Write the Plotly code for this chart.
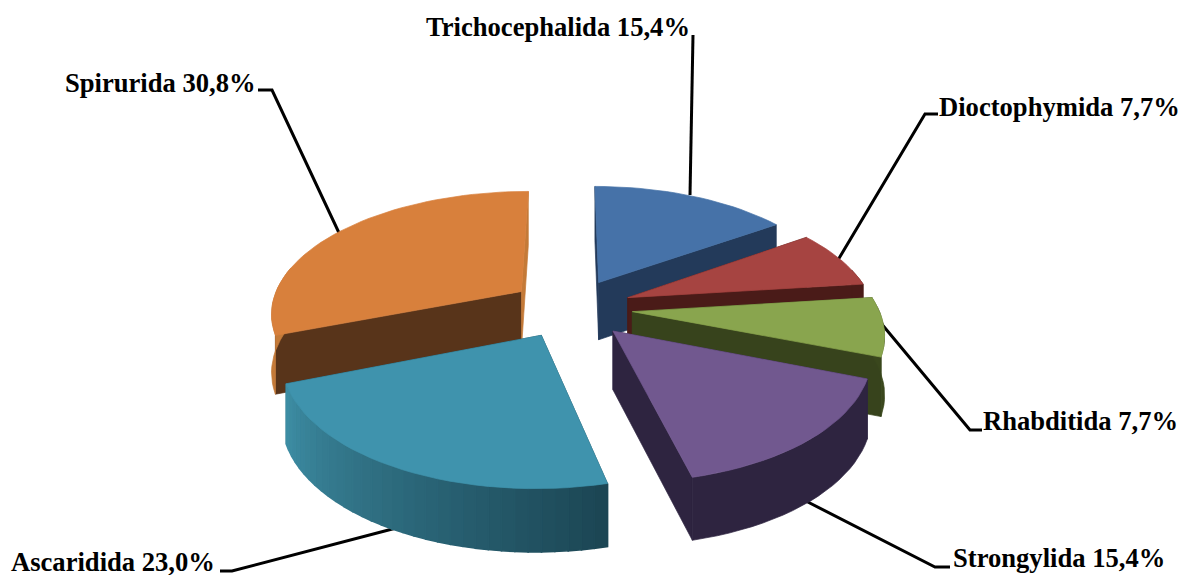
import math
import plotly.graph_objects as go

orders = ["Trichocephalida", "Dioctophymida", "Rhabditida", "Strongylida", "Ascaridida", "Spirurida"]
shares = [15.4, 7.7, 7.7, 15.4, 23.0, 30.8]
share_text = ["15,4%", "7,7%", "7,7%", "15,4%", "23,0%", "30,8%"]

top_colors = ["#4672A8", "#A64441", "#89A54E", "#71588F", "#3F93AD", "#D8803C"]
wall_start = ["#233A5A", "#4A1B18", "#37431C", "#2E2440", "#1B4553", "#58341A"]
wall_end = ["#233A5A", "#4A1B18", "#37431C", "#2E2440", "#1B4553", "#C47A38"]
arc_from = ["#233A5A", "#4A1B18", "#3A471D", "#2E2440", "#1B4553", "#C47A38"]
arc_to = ["#233A5A", "#4A1B18", "#3A471D", "#2E2440", "#3E8EA5", "#C47A38"]
radius_scale = [1, 1, 1, 1, 1, 1.02]
draw_order = [0, 1, 5, 2, 4, 3]

label_xy = [(424, 27), (937, 107), (981, 421), (951, 558), (9, 562), (63, 83)]
leaders = [
    [(693, 35), (690, 195)],
    [(938, 114), (925, 114), (838, 260)],
    [(880, 322), (970, 430), (982, 430)],
    [(800, 498), (935, 567), (950, 567)],
    [(400, 527), (232, 571), (220, 571)],
    [(258, 90), (272, 90), (340, 235)],
]

CX, CY = 571, 308
R, AR, K, EXPLODE, H = 246, 119, 0.16, 0.25, 58


def project(u, v, drop=0.0):
    s = 1 / (1 - K * v)
    return CX + R * u * s, CY + AR * v * s + drop * s ** 0.4


def mix(c1, c2, t):
    a = [int(c1[i:i + 2], 16) for i in (1, 3, 5)]
    b = [int(c2[i:i + 2], 16) for i in (1, 3, 5)]
    return "rgb(%d,%d,%d)" % tuple(round(p + (q - p) * t) for p, q in zip(a, b))


def poly(fig, pts, color, lw=0.7):
    xs = [p[0] for p in pts] + [pts[0][0]]
    ys = [p[1] for p in pts] + [pts[0][1]]
    fig.add_trace(go.Scatter(x=xs, y=ys, mode="lines", fill="toself", fillcolor=color,
                             line=dict(color=color, width=lw), hoverinfo="skip", showlegend=False))


fig = go.Figure()

for path in leaders:
    fig.add_trace(go.Scatter(x=[p[0] for p in path], y=[p[1] for p in path], mode="lines",
                             line=dict(color="black", width=3), hoverinfo="skip", showlegend=False))

total = sum(shares)
starts = [sum(shares[:i]) / total * 2 * math.pi for i in range(len(shares))]

for i in draw_order:
    a0 = starts[i]
    a1 = a0 + shares[i] / total * 2 * math.pi
    mid = (a0 + a1) / 2
    au, av = EXPLODE * math.sin(mid), -EXPLODE * math.cos(mid)
    n = max(4, int((a1 - a0) / math.radians(2.5)))
    rim = []
    for j in range(n + 1):
        t = a0 + (a1 - a0) * j / n
        rim.append((au + radius_scale[i] * math.sin(t), av - radius_scale[i] * math.cos(t)))
    # radial walls
    for end, col in ((rim[0], wall_start[i]), (rim[-1], wall_end[i])):
        poly(fig, [project(au, av), project(*end), project(*end, H), project(au, av, H)], col)
    # outer wall, only the part that faces the viewer
    visible = [p for p in rim if p[1] - av > -0.25]
    if len(visible) >= 2:
        m = len(visible) - 1
        if arc_from[i] == arc_to[i]:
            poly(fig, [project(*p) for p in visible] + [project(*p, H) for p in reversed(visible)], arc_from[i])
        else:
            for j in range(m):
                c = mix(arc_from[i], arc_to[i], (j + 0.5) / m)
                poly(fig, [project(*visible[j]), project(*visible[j + 1]),
                           project(*visible[j + 1], H), project(*visible[j], H)], c, 1.6)
    # top face
    poly(fig, [project(au, av)] + [project(*p) for p in rim], top_colors[i])

for name, pct, (x, y) in zip(orders, share_text, label_xy):
    fig.add_annotation(x=x, y=y, text=f"<b>{name} {pct}</b>", showarrow=False, xanchor="left", yanchor="middle",
                       font=dict(family="Liberation Serif", size=26.6, color="black"))

fig.update_layout(
    width=1182, height=575, margin=dict(l=0, r=0, t=0, b=0),
    paper_bgcolor="white", plot_bgcolor="white", showlegend=False,
    xaxis=dict(range=[0, 1182], visible=False, fixedrange=True),
    yaxis=dict(range=[575, 0], visible=False, fixedrange=True),
)
fig.write_html("out.html", config={"displayModeBar": False},
               post_script="document.body.style.margin='0';document.body.style.overflow='hidden';")
